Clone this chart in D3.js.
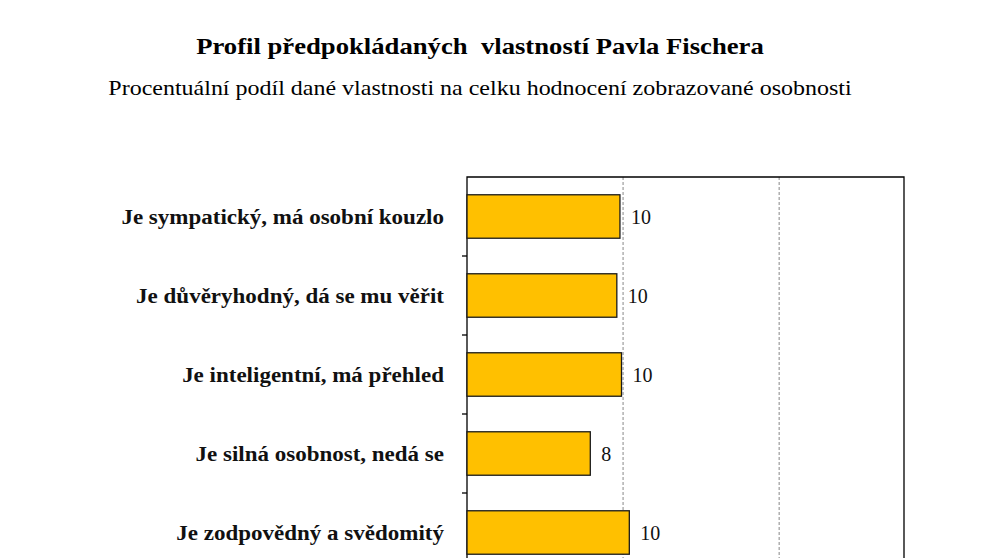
<!DOCTYPE html>
<html>
<head>
<meta charset="utf-8">
<script src="https://cdn.jsdelivr.net/npm/d3@7"></script>
<style>
  body { margin: 0; background: #fff; }
  svg { display: block; }
</style>
</head>
<body>
<svg id="chart" width="991" height="558"></svg>
<script>
// data (values in %)
const categories = [
  'Je sympatický, má osobní kouzlo',
  'Je důvěryhodný, dá se mu věřit',
  'Je inteligentní, má přehled',
  'Je silná osobnost, nedá se',
  'Je zodpovědný a svědomitý'
];
const values = [9.8, 9.6, 9.9, 7.9, 10.4];
const valueLabels = ['10', '10', '10', '8', '10'];
const gridTicks = [10, 20];

const titleText = 'Profil předpokládaných\u00a0 vlastností Pavla Fischera';
const subtitleText = 'Procentuální podíl dané vlastnosti na celku hodnocení zobrazované osobnosti';

const serif = 'Liberation Serif, Times New Roman, serif';
const svg = d3.select('#chart');

// plot area
const plotLeft = 467, plotRight = 904, plotTop = 177;
const band = 79;

const x = d3.scaleLinear().domain([0, 28]).range([plotLeft, plotRight]);
const y = d3.scaleBand().domain(categories)
  .range([plotTop, plotTop + band * categories.length])
  .paddingInner(0.45).paddingOuter(0.225);

// the original text is a bit wider than Liberation Serif, so stretch it sideways
function stretched(sel, px, py, sx) {
  return sel.attr('transform', `translate(${px},${py}) scale(${sx},1)`);
}

// titles
svg.append('text')
  .call(stretched, 480, 54, 1.16)
  .attr('text-anchor', 'middle')
  .attr('font-family', serif)
  .attr('font-weight', 'bold')
  .attr('font-size', 23)
  .text(titleText);

svg.append('text')
  .call(stretched, 480, 95, 1.2)
  .attr('text-anchor', 'middle')
  .attr('font-family', serif)
  .attr('font-size', 20)
  .text(subtitleText);

// gridlines
svg.append('g').selectAll('line')
  .data(gridTicks)
  .join('line')
  .attr('x1', d => x(d)).attr('x2', d => x(d))
  .attr('y1', plotTop).attr('y2', 558)
  .attr('stroke', '#888')
  .attr('stroke-width', 1)
  .attr('stroke-dasharray', '3,2');

// frame
svg.append('path')
  .attr('d', `M${plotLeft},600V${plotTop}H${plotRight}V600`)
  .attr('fill', 'none')
  .attr('stroke', '#000')
  .attr('stroke-width', 1.3);

// category separator ticks
const tickYs = d3.range(1, categories.length + 1).map(i => plotTop + band * i);
svg.append('g').selectAll('line')
  .data(tickYs)
  .join('line')
  .attr('x1', plotLeft - 5).attr('x2', plotLeft)
  .attr('y1', d => d).attr('y2', d => d)
  .attr('stroke', '#000')
  .attr('stroke-width', 1.3);

// bars
svg.append('g').selectAll('rect')
  .data(values)
  .join('rect')
  .attr('x', x(0))
  .attr('y', (d, i) => y(categories[i]))
  .attr('width', d => x(d) - x(0))
  .attr('height', y.bandwidth())
  .attr('fill', '#FFC000')
  .attr('stroke', '#1a1a1a')
  .attr('stroke-width', 1.3);

// value labels
svg.append('g').selectAll('text')
  .data(values)
  .join('text')
  .attr('x', d => x(d) + 11)
  .attr('y', (d, i) => y(categories[i]) + y.bandwidth() / 2)
  .attr('dy', '0.35em')
  .attr('font-family', serif)
  .attr('font-size', 20)
  .attr('fill', '#111')
  .text((d, i) => valueLabels[i]);

// category labels
svg.append('g').selectAll('text')
  .data(categories)
  .join('text')
  .each(function (d) {
    stretched(d3.select(this), 444, y(d) + y.bandwidth() / 2, 1.15);
  })
  .attr('dy', '0.35em')
  .attr('text-anchor', 'end')
  .attr('font-family', serif)
  .attr('font-weight', 'bold')
  .attr('font-size', 20)
  .attr('fill', '#111')
  .text(d => d);
</script>
</body>
</html>
